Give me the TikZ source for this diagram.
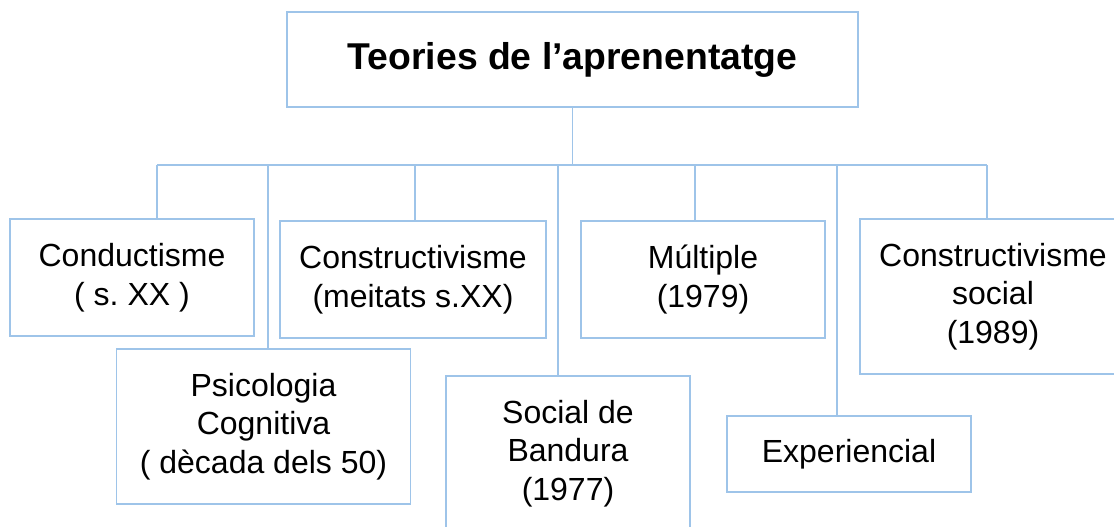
\documentclass[tikz,border=0pt]{standalone}
\usepackage{fontspec}
\setmainfont{Liberation Sans}
\frenchspacing
\definecolor{linkblue}{RGB}{158,196,233}
\tikzset{
  theory/.style={draw=linkblue, line width=1.3pt, align=center, inner sep=0pt,
    font=\fontsize{24}{29}\selectfont},
  link/.style={draw=linkblue, line width=1.3pt}
}

\begin{document}
\begin{tikzpicture}[x=0.75pt,y=-0.75pt]
  \useasboundingbox (0,0) rectangle (1114,526);
  \clip (0,0) rectangle (1114,526);
  \node[theory, minimum width=428.25pt, minimum height=71.25pt,
    font=\fontsize{28}{34}\selectfont\bfseries] (title) at (572.5,59.5)
    {Teories de l’aprenentatge};
  \node[theory, minimum width=183pt, minimum height=87.75pt] (cond) at (132,277.5)
    {Conductisme\\( s. XX )};
  \node[theory, minimum width=199.5pt, minimum height=87.75pt] (constr) at (413,279.5)
    {Constructivisme\\(meitats s.XX)};
  \node[theory, minimum width=183pt, minimum height=87.75pt] (mult) at (703,279.5)
    {Múltiple\\(1979)};
  \node[theory, minimum width=199.5pt, minimum height=116.25pt] (csoc) at (993,296.5)
    {Constructivisme\\social\\(1989)};
  \node[theory, minimum width=220.5pt, minimum height=116.25pt] (psico) at (263.5,426.5)
    {Psicologia\\Cognitiva\\( dècada dels 50)};
  \node[theory, minimum width=183pt, minimum height=116.25pt] (band) at (568,453.5)
    {Social de\\Bandura\\(1977)};
  \node[theory, minimum width=183pt, minimum height=57pt] (exper) at (849,454)
    {Experiencial};

  % tree
  \coordinate (b1) at (157,165);
  \coordinate (b2) at (268,165);
  \coordinate (b3) at (415,165);
  \coordinate (b4) at (558,165);
  \coordinate (b5) at (695,165);
  \coordinate (b6) at (837,165);
  \coordinate (b7) at (987,165);
  \draw[link] (title.south) -- (title.south |- b1);
  \draw[link] (b1) -- (b7);
  \draw[link] (b1) -- (b1 |- cond.north);
  \draw[link] (b2) -- (b2 |- psico.north);
  \draw[link] (b3) -- (b3 |- constr.north);
  \draw[link] (b4) -- (b4 |- band.north);
  \draw[link] (b5) -- (b5 |- mult.north);
  \draw[link] (b6) -- (b6 |- exper.north);
  \draw[link] (b7) -- (b7 |- csoc.north);
\end{tikzpicture}
\end{document}
